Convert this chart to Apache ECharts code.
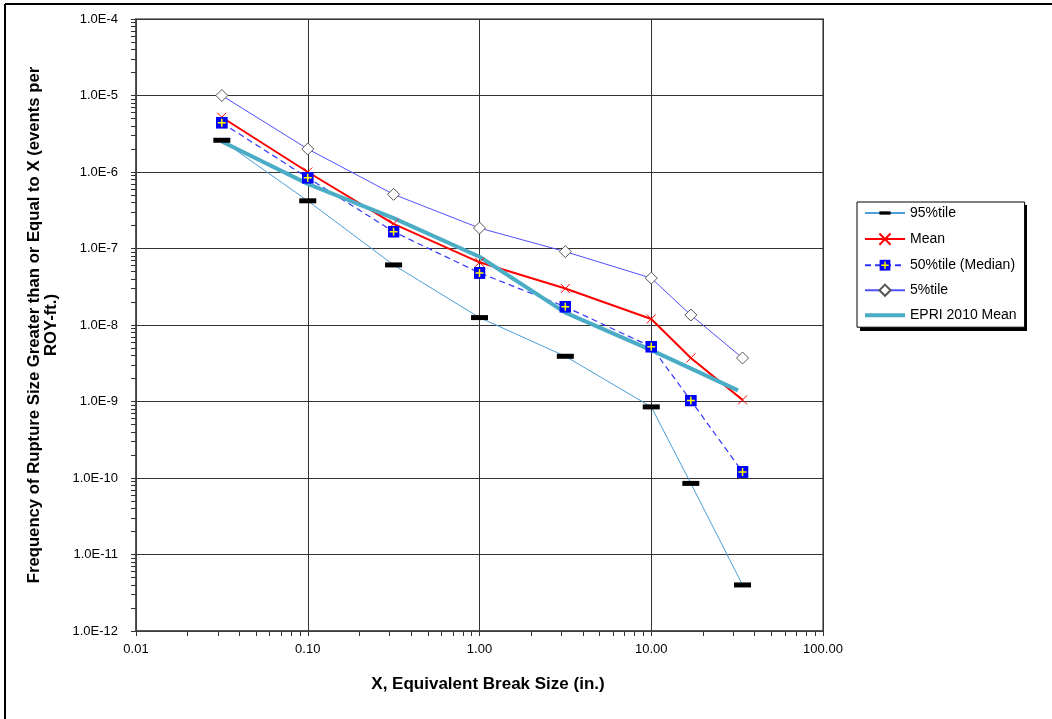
<!DOCTYPE html>
<html>
<head>
<meta charset="utf-8">
<script src="https://cdn.jsdelivr.net/npm/echarts@6/dist/echarts.min.js"></script>
<style>
  html, body { margin:0; padding:0; background:#fff; }
  #chart { width:1052px; height:719px; }
</style>
</head>
<body>
<div id="chart"></div>
<script>
// break sizes (in.)
var xSizes = [0.0316, 0.1, 0.316, 1, 3.16, 10, 17, 34];
var epriX  = [0.0316, 0.1, 0.316, 1, 3.16, 10, 32];

// frequencies (events per ROY-ft.)
var p95  = [2.6e-6, 4.2e-7, 6.1e-8, 1.25e-8, 3.9e-9, 8.5e-10, 8.5e-11, 4.0e-12];
var mean = [5.2e-6, 1.0e-6, 2.1e-7, 6.6e-8, 3.0e-8, 1.2e-8, 3.7e-9, 1.05e-9];
var p50  = [4.4e-6, 8.4e-7, 1.66e-7, 4.8e-8, 1.73e-8, 5.2e-9, 1.03e-9, 1.2e-10];
var p05  = [1.0e-5, 2.0e-6, 5.1e-7, 1.85e-7, 9.1e-8, 4.1e-8, 1.35e-8, 3.7e-9];
var epri = [2.5e-6, 7.0e-7, 2.5e-7, 7.8e-8, 1.45e-8, 4.7e-9, 1.4e-9];

function pairs(xs, ys){
  var out = [];
  for (var i = 0; i < ys.length; i++) out.push([xs[i], ys[i]]);
  return out;
}

// log minor tick positions (1..9 x 10^n)
function logTicks(minExp, maxExp){
  var out = [];
  for (var e = minExp; e < maxExp; e++) {
    for (var k = 1; k < 10; k++) out.push(k * Math.pow(10, e));
  }
  out.push(Math.pow(10, maxExp));
  return out;
}

var font = '"Liberation Sans", Arial, sans-serif';

// blue square with yellow plus (median marker)
var medSvg = "<svg xmlns='http://www.w3.org/2000/svg' width='12' height='12'>" +
  "<rect x='0' y='0' width='12' height='12' fill='#0000ff'/>" +
  "<path d='M6 2V10M2 6H10' stroke='#ffff00' stroke-width='1.5'/></svg>";
var medSymbol = 'image://data:image/svg+xml;charset=utf-8,' + encodeURIComponent(medSvg);
// flat black dash, padded to a square box so the legend keeps its shape
var dashSymbol = 'path://M0,0L0,0M0,6L17,6L17,11L0,11ZM17,17L17,17';

var chart = echarts.init(document.getElementById('chart'));

var option = {
  backgroundColor: '#fff',
  animation: false,
  textStyle: { fontFamily: font },
  grid: {
    left: 136, top: 19, right: 229, bottom: 88,
    show: true, borderColor: '#8c8c8c', borderWidth: 2
  },
  legend: {
    orient: 'vertical',
    left: 857, top: 202,
    data: [
      '95%tile', 'Mean', '50%tile (Median)', '5%tile',
      { name: 'EPRI 2010 Mean', itemStyle: { opacity: 0 }, lineStyle: { width: 4 } }
    ],
    itemWidth: 40, itemHeight: 14, itemGap: 11,
    padding: [4, 8, 5, 6],
    backgroundColor: '#fff',
    borderColor: '#000', borderWidth: 1,
    z: 10,
    textStyle: { fontFamily: font, fontSize: 14, color: '#000' }
  },
  xAxis: [
    {
      type: 'log', min: 0.01, max: 100, position: 'bottom',
      name: 'X, Equivalent Break Size (in.)',
      nameLocation: 'middle', nameGap: 45,
      nameTextStyle: { fontFamily: font, fontSize: 17, fontWeight: 'bold', color: '#000', padding: [0, 0, 0, 17] },
      axisLine: { lineStyle: { color: '#444', width: 1.5 } },
      axisTick: { show: false },
      axisLabel: {
        margin: 12, fontSize: 13, color: '#000', fontFamily: font,
        formatter: function(v){ return v.toFixed(2); }
      },
      splitLine: { show: true, lineStyle: { color: '#333', width: 1 } }
    },
    {
      type: 'log', min: 0.01, max: 100, position: 'bottom',
      axisLine: { show: false },
      axisLabel: { show: false },
      splitLine: { show: false },
      axisTick: { show: true, inside: false, length: 5, customValues: logTicks(-2, 2), lineStyle: { color: '#333' } }
    }
  ],
  yAxis: [
    {
      type: 'log', min: 1e-12, max: 1e-4, position: 'left',
      name: 'Frequency of Rupture Size Greater than or Equal to X (events per\nROY-ft.)',
      nameLocation: 'middle', nameGap: 76, nameRotate: 90,
      nameTextStyle: { fontFamily: font, fontSize: 16.7, fontWeight: 'bold', color: '#000', lineHeight: 17, align: 'center' },
      axisLine: { lineStyle: { color: '#444', width: 1.5 } },
      axisTick: { show: false },
      axisLabel: {
        margin: 18, fontSize: 13, color: '#000', fontFamily: font,
        formatter: function(v){ return v.toExponential(1).toUpperCase(); }
      },
      splitLine: { show: true, lineStyle: { color: '#333', width: 1 } }
    },
    {
      type: 'log', min: 1e-12, max: 1e-4, position: 'left',
      axisLine: { show: false },
      axisLabel: { show: false },
      splitLine: { show: false },
      axisTick: { show: true, inside: false, length: 5, customValues: logTicks(-12, -4), lineStyle: { color: '#333' } }
    }
  ],
  series: [
    {
      name: '95%tile', type: 'line', data: pairs(xSizes, p95),
      symbol: dashSymbol, symbolSize: 17,
      itemStyle: { color: '#000' },
      lineStyle: { color: '#4a9fd8', width: 1 }
    },
    {
      name: 'Mean', type: 'line', data: pairs(xSizes, mean),
      symbol: 'path://M0,0L10,10M0,10L10,0', symbolSize: 9,
      itemStyle: { color: 'none', borderColor: '#ff0000', borderWidth: 1 },
      lineStyle: { color: '#ff0000', width: 2 }
    },
    {
      name: '50%tile (Median)', type: 'line', data: pairs(xSizes, p50),
      symbol: medSymbol, symbolSize: 12,
      itemStyle: { color: '#0000ff' },
      lineStyle: { color: '#3333ff', width: 1.2, type: [6, 4] }
    },
    {
      name: '5%tile', type: 'line', data: pairs(xSizes, p05),
      symbol: 'diamond', symbolSize: 12,
      itemStyle: { color: '#fff', borderColor: '#555', borderWidth: 1 },
      lineStyle: { color: '#5050ff', width: 1 }
    },
    {
      name: 'EPRI 2010 Mean', type: 'line', data: pairs(epriX, epri),
      symbol: 'circle', symbolSize: 0, showSymbol: false,
      itemStyle: { color: '#4bacc6' },
      lineStyle: { color: '#4bacc6', width: 4 }
    }
  ],
  graphic: [
    { type: 'line', shape: { x1: 5, y1: 4, x2: 1052, y2: 4 }, style: { stroke: '#000', lineWidth: 2 } },
    { type: 'line', shape: { x1: 5, y1: 4, x2: 5, y2: 719 }, style: { stroke: '#000', lineWidth: 2 } },
    // legend drop shadow
    { type: 'rect', z: 1, shape: { x: 860, y: 205, width: 167, height: 126 }, style: { fill: '#000' } }
  ]
};

chart.setOption(option);
</script>
</body>
</html>
